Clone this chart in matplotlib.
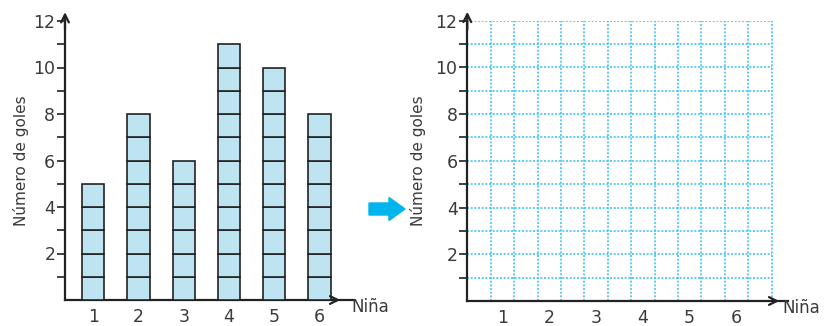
import numpy as np
import matplotlib.pyplot as plt
from matplotlib.patches import FancyArrow

# datos
ninas = [1, 2, 3, 4, 5, 6]
goles = [5, 8, 6, 11, 10, 8]
y_ticks = list(range(1, 13))
x_labels = ['1', '2', '3', '4', '5', '6']

W, H = 830, 326
fig = plt.figure(figsize=(W / 100, H / 100), dpi=100)
plt.rcParams['font.family'] = ['DejaVu Sans']
txt = '#3a3a3a'
fill = '#bee4f2'
grid_c = '#45c3ef'


def px_axes(left, top, right, bottom):
    return fig.add_axes([left / W, 1 - bottom / H, (right - left) / W, (bottom - top) / H])


def style_axes(ax, label_x):
    for s in ['top', 'right']:
        ax.spines[s].set_visible(False)
    for s in ['left', 'bottom']:
        ax.spines[s].set_linewidth(1.6)
        ax.spines[s].set_color('#222222')
    ax.set_ylim(0, 12)
    ax.set_yticks(y_ticks)
    ax.set_yticklabels(['' if v % 2 else str(v) for v in y_ticks], fontsize=12.5, color=txt)
    ax.tick_params(axis='y', length=6, width=1.3, color='#333333', pad=1)
    ax.tick_params(axis='x', length=0, pad=6, labelsize=12.5, labelcolor=txt)
    ax.set_ylabel('Número de goles', fontsize=11, color=txt)
    ax.yaxis.set_label_coords(label_x, 0.5)
    ax.patch.set_alpha(0)


# grafico izquierdo: barras de cuadritos
unit = 45.24
x0 = 1 - (93.3 - 65) / unit
ax1 = px_axes(65, 21, 65 + (6.75 - x0) * unit, 300)
for x, v in zip(ninas, goles):
    ax1.bar([x] * v, [1] * v, bottom=np.arange(v), width=0.49, color=fill,
            edgecolor='#222222', linewidth=1.2, zorder=3)
ax1.set_xlim(x0, 6.75)
ax1.set_xticks(ninas)
ax1.set_xticklabels(x_labels)
style_axes(ax1, -0.125)
ax1.annotate('', xy=(6.52, 0), xytext=(6.2, 0), annotation_clip=False,
             arrowprops=dict(arrowstyle='->', lw=1.6, color='#222222', mutation_scale=14))
ax1.annotate('', xy=(x0, 12.5), xytext=(x0, 11.5), annotation_clip=False,
             arrowprops=dict(arrowstyle='->', lw=1.6, color='#222222', mutation_scale=14))
ax1.text(6.7, -0.3, 'Niña', fontsize=12, color=txt, va='center', ha='left', clip_on=False)

# grafico derecho: cuadricula vacia
u2 = 23.4
ax2 = px_axes(467.3, 20.7, 467.3 + 13.7 * u2, 301)
ax2.set_xlim(0, 13.7)
for k in range(1, 14):
    ax2.vlines(k, 0, 12, colors=grid_c, linestyles=(0, (1.2, 1.0)), lw=1.2)
for k in y_ticks:
    ax2.hlines(k, 0, 13, colors=grid_c, linestyles=(0, (1.2, 1.0)), lw=1.2)
ax2.set_xticks([2 * n - 0.5 for n in ninas])
ax2.set_xticklabels(x_labels)
style_axes(ax2, -0.13)
ax2.annotate('', xy=(13.45, 0), xytext=(13.0, 0), annotation_clip=False,
             arrowprops=dict(arrowstyle='->', lw=1.6, color='#222222', mutation_scale=14))
ax2.annotate('', xy=(0, 12.5), xytext=(0, 11.5), annotation_clip=False,
             arrowprops=dict(arrowstyle='->', lw=1.6, color='#222222', mutation_scale=14))
ax2.text(13.45, -0.3, 'Niña', fontsize=12, color=txt, va='center', ha='left', clip_on=False)

# flecha azul
fig.patches.append(FancyArrow(369 / W, 1 - 209 / H, 20 / W, 0, width=12 / H,
                              head_width=23 / H, head_length=16 / W,
                              length_includes_head=False, color='#00b4ec',
                              transform=fig.transFigure, figure=fig))

fig.savefig('out.png', dpi=100)
